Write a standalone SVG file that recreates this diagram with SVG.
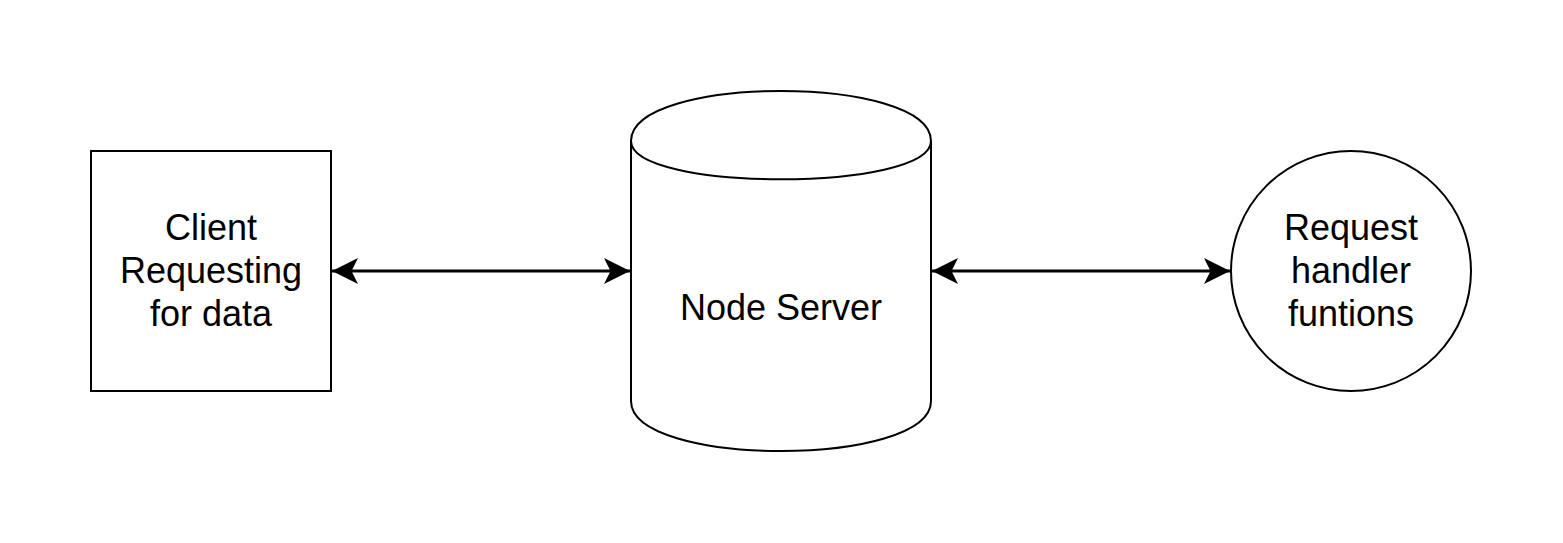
<svg xmlns="http://www.w3.org/2000/svg" width="1563" height="543" viewBox="0 0 1563 543">
  <style>
    .shape { fill: #ffffff; stroke: #000000; stroke-width: 2; }
    .edge { fill: none; stroke: #000000; stroke-width: 3; }
    .label { font-family: "Liberation Sans", Arial, Helvetica, sans-serif; font-size: 36px; fill: #000000; text-anchor: middle; }
  </style>
  <defs>
    <marker id="arrow" viewBox="0 0 26 26" refX="26" refY="13" markerWidth="26" markerHeight="26" markerUnits="userSpaceOnUse" orient="auto-start-reverse">
      <path d="M26,13 L0,0 L6.5,13 L0,26 Z" fill="#000000"/>
    </marker>
  </defs>
  <rect width="1563" height="543" fill="#ffffff"/>
  <g id="edges">
    <line class="edge" x1="332" y1="271" x2="630" y2="271" marker-start="url(#arrow)" marker-end="url(#arrow)"/>
    <line class="edge" x1="932" y1="271" x2="1230" y2="271" marker-start="url(#arrow)" marker-end="url(#arrow)"/>
  </g>
  <g id="client">
    <rect class="shape" x="91" y="151" width="240" height="240"/>
    <text class="label" x="211" y="239.5">Client</text>
    <text class="label" x="211" y="282.7">Requesting</text>
    <text class="label" x="211" y="325.9">for data</text>
  </g>
  <g id="server">
    <path class="shape" d="M631,141 C631,74.3 931,74.3 931,141 L931,401 C931,467.7 631,467.7 631,401 Z"/>
    <path class="shape" d="M631,141 C631,192 931,192 931,141" style="fill:none"/>
    <text class="label" x="781" y="320">Node Server</text>
  </g>
  <g id="handler">
    <circle class="shape" cx="1351" cy="271" r="120"/>
    <text class="label" x="1351" y="239.5">Request</text>
    <text class="label" x="1351" y="282.7">handler</text>
    <text class="label" x="1351" y="325.9">funtions</text>
  </g>
</svg>
